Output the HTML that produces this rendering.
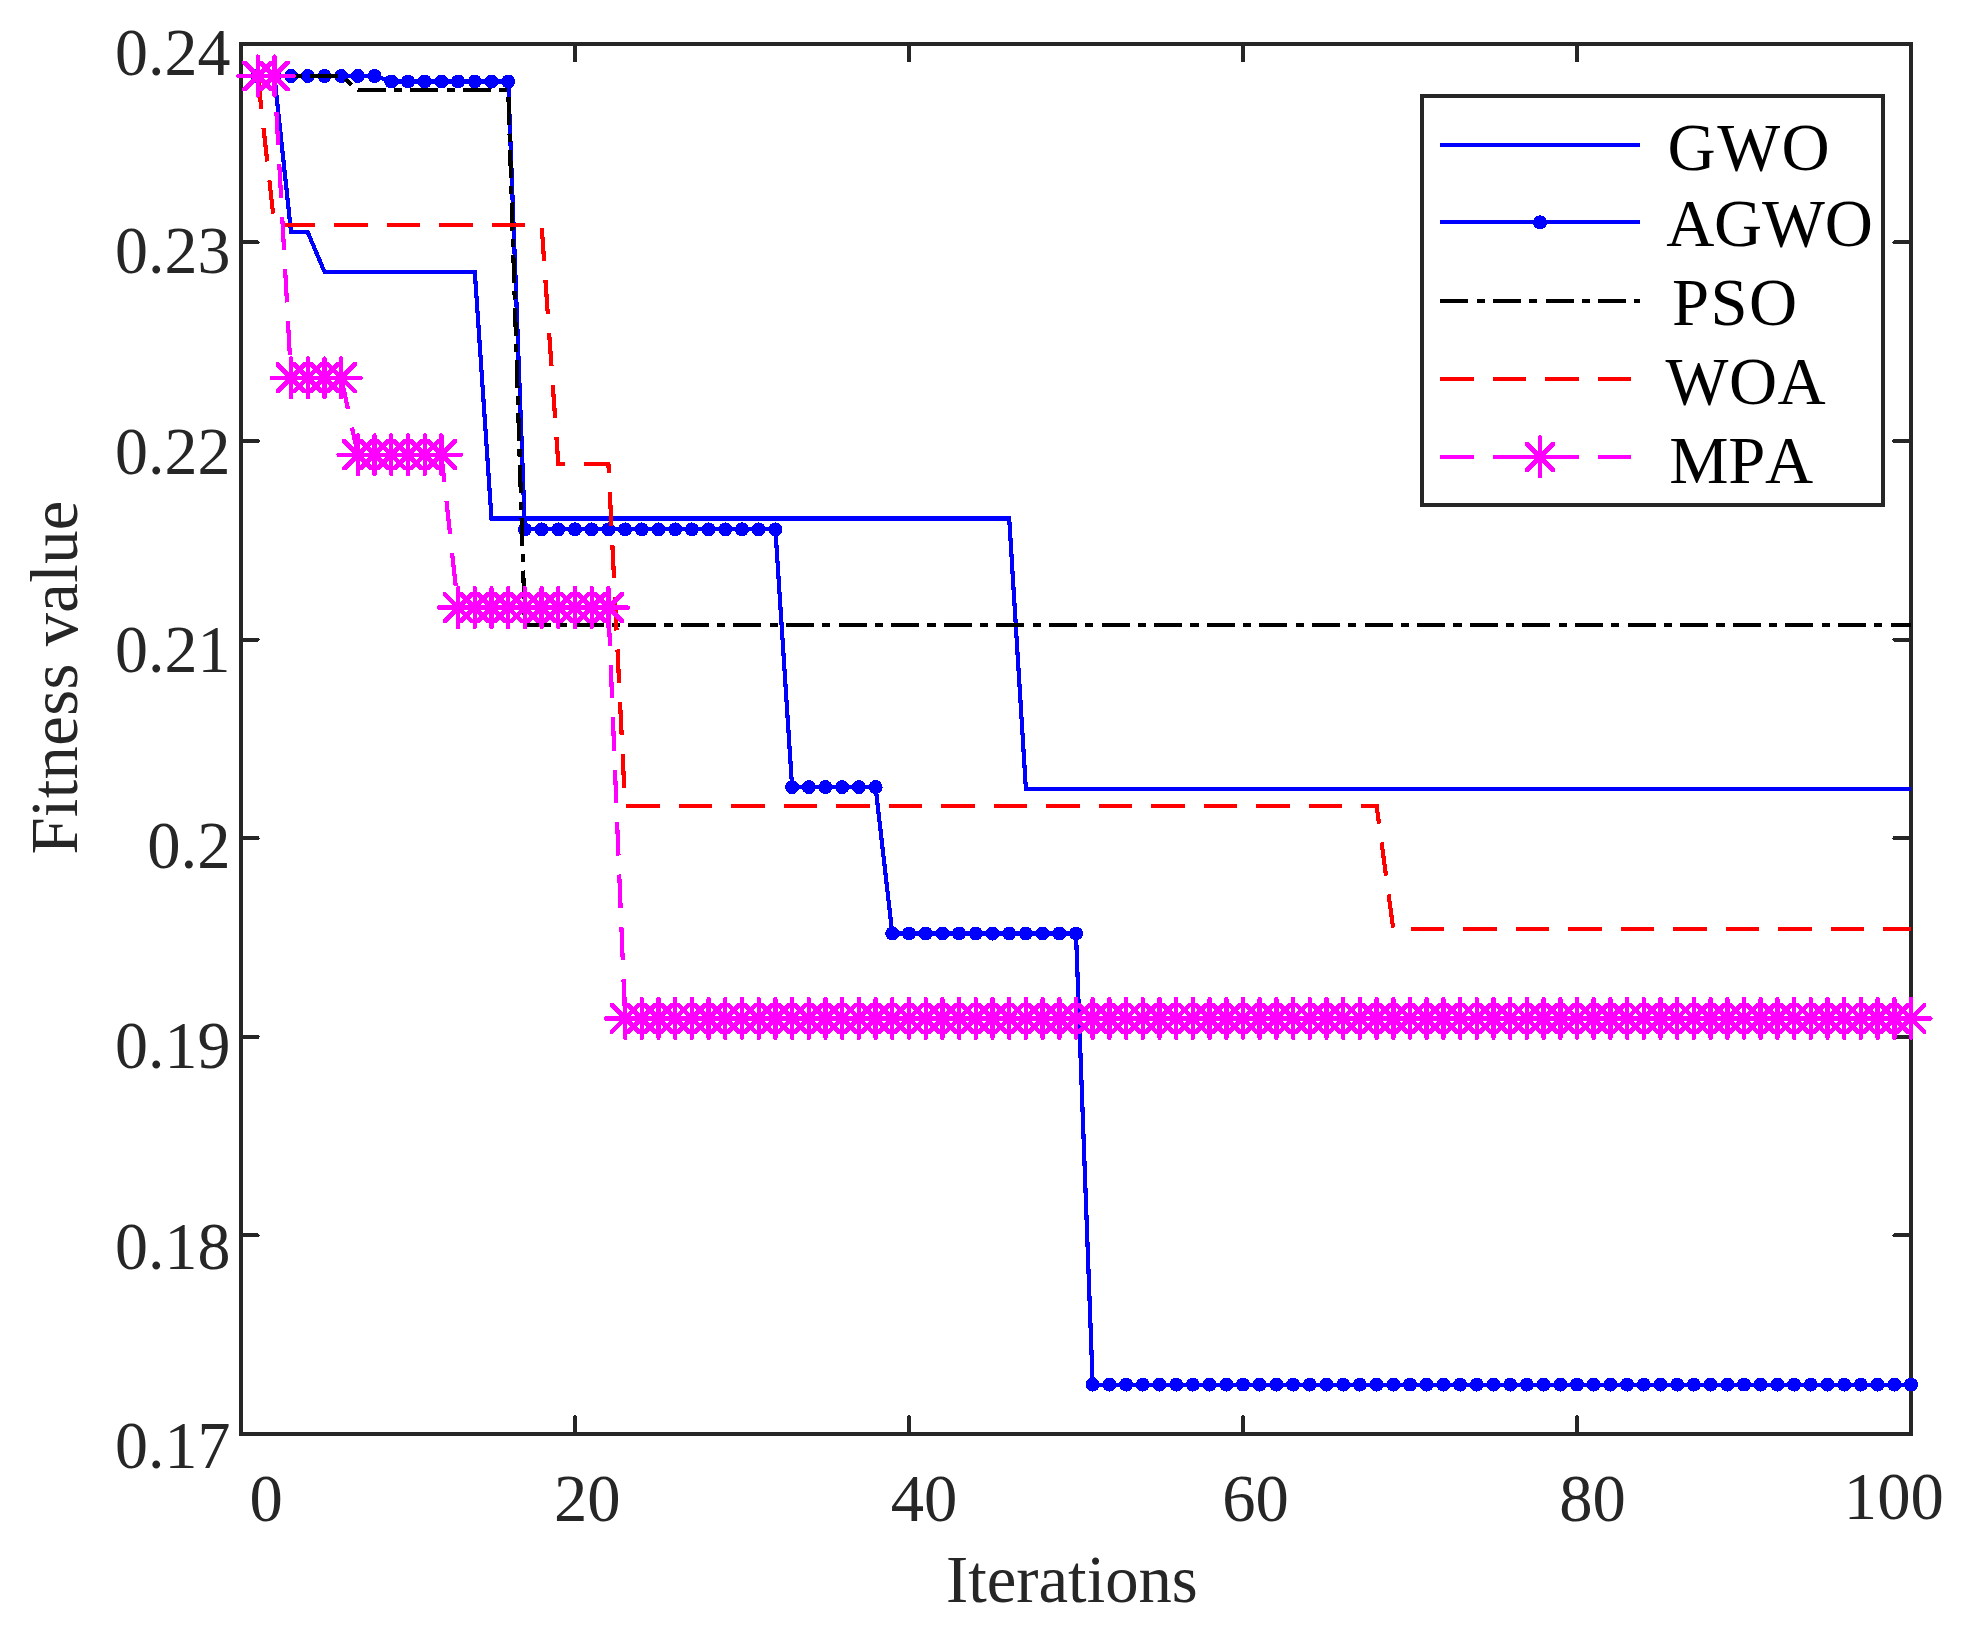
<!DOCTYPE html>
<html lang="en"><head><meta charset="utf-8"><title>Fitness value vs Iterations</title>
<style>html,body{margin:0;padding:0;background:#fff}svg{display:block}text{font-family:"Liberation Serif",serif;font-size:66.67px;font-kerning:none;font-variant-ligatures:none}</style></head><body>
<svg shape-rendering="crispEdges" width="1972" height="1635" viewBox="0 0 1972 1635">
<defs>
<g id="star"><path stroke="#ff00ff" stroke-width="4.4" stroke-linecap="round" fill="none" d="M-19.4,0H19.4 M0,-19.4 V19.4"/><path fill="#ff00ff" stroke="none" d="M15.4,15.4 V12 L-12,-15.4 H-15.4 V-12 L12,15.4 Z M-15.4,15.4 H-12 L15.4,-12 V-15.4 H12 L-15.4,12 Z"/></g>
<circle id="dot" r="7" fill="#0000ff"/>
</defs>
<rect width="1972" height="1635" fill="#ffffff"/>
<g stroke="#262626" stroke-width="4" fill="none" stroke-linecap="round" stroke-linejoin="miter">
<path d="M575.0,1433.0V1417.3M575.0,44.8V60.5M909.0,1433.0V1417.3M909.0,44.8V60.5M1243.0,1433.0V1417.3M1243.0,44.8V60.5M1577.0,1433.0V1417.3M1577.0,44.8V60.5M242.0,242.4H257.7M1910.0,242.4H1894.3M242.0,441.0H257.7M1910.0,441.0H1894.3M242.0,639.6H257.7M1910.0,639.6H1894.3M242.0,838.2H257.7M1910.0,838.2H1894.3M242.0,1036.8H257.7M1910.0,1036.8H1894.3M242.0,1235.4H257.7M1910.0,1235.4H1894.3"/>
<rect x="241.0" y="43.8" width="1670.0" height="1390.2" stroke-linecap="butt"/>
</g>
<g fill="#262626">
<text transform="translate(230.5,75.0) scale(1,1.027)" text-anchor="end" textLength="115.4" lengthAdjust="spacingAndGlyphs">0.24</text>
<text transform="translate(230.5,273.2) scale(1,1.027)" text-anchor="end" textLength="115.4" lengthAdjust="spacingAndGlyphs">0.23</text>
<text transform="translate(230.5,473.5) scale(1,1.027)" text-anchor="end" textLength="115.4" lengthAdjust="spacingAndGlyphs">0.22</text>
<text transform="translate(230.5,671.5) scale(1,1.027)" text-anchor="end" textLength="115.4" lengthAdjust="spacingAndGlyphs">0.21</text>
<text transform="translate(230.5,868.2) scale(1,1.027)" text-anchor="end">0.2</text>
<text transform="translate(230.5,1068.1) scale(1,1.027)" text-anchor="end" textLength="115.4" lengthAdjust="spacingAndGlyphs">0.19</text>
<text transform="translate(230.5,1268.7) scale(1,1.027)" text-anchor="end" textLength="115.4" lengthAdjust="spacingAndGlyphs">0.18</text>
<text transform="translate(230.5,1467.5) scale(1,1.027)" text-anchor="end" textLength="115.4" lengthAdjust="spacingAndGlyphs">0.17</text>
<text transform="translate(266.1,1520.8) scale(1,1.027)" text-anchor="middle">0</text>
<text transform="translate(587.3,1520.8) scale(1,1.027)" text-anchor="middle">20</text>
<text transform="translate(924.0,1520.8) scale(1,1.027)" text-anchor="middle">40</text>
<text transform="translate(1255.6,1520.8) scale(1,1.027)" text-anchor="middle">60</text>
<text transform="translate(1592.5,1520.8) scale(1,1.027)" text-anchor="middle">80</text>
<text transform="translate(1893.8,1518.6) scale(1,1.027)" text-anchor="middle">100</text>
<text x="1071.9" y="1601.7" text-anchor="middle">Iterations</text>
<text transform="translate(76.8,677.6) rotate(-90)" text-anchor="middle" textLength="354" lengthAdjust="spacing">Fitness value</text>
</g>
<g fill="none" stroke-width="4.17" stroke-linejoin="miter" stroke-linecap="butt">
<polyline stroke="#0000ff" points="257.7,76.0 274.4,76.0 291.1,232.4 307.8,232.4 324.5,271.8 474.8,271.8 491.5,518.5 1009.2,518.5 1025.9,789.0 1911.0,789.0"/>
<polyline stroke="#0000ff" points="257.7,76.0 374.6,76.0 391.3,81.5 508.2,81.5 524.9,529.4 775.4,529.4 792.1,787.1 875.6,787.1 892.3,933.5 1076.0,933.5 1092.7,1384.6 1911.0,1384.6"/>
<g><use href="#dot" x="257.7" y="76.0"/><use href="#dot" x="274.4" y="76.0"/><use href="#dot" x="291.1" y="76.0"/><use href="#dot" x="307.8" y="76.0"/><use href="#dot" x="324.5" y="76.0"/><use href="#dot" x="341.2" y="76.0"/><use href="#dot" x="357.9" y="76.0"/><use href="#dot" x="374.6" y="76.0"/><use href="#dot" x="391.3" y="81.5"/><use href="#dot" x="408.0" y="81.5"/><use href="#dot" x="424.7" y="81.5"/><use href="#dot" x="441.4" y="81.5"/><use href="#dot" x="458.1" y="81.5"/><use href="#dot" x="474.8" y="81.5"/><use href="#dot" x="491.5" y="81.5"/><use href="#dot" x="508.2" y="81.5"/><use href="#dot" x="524.9" y="529.4"/><use href="#dot" x="541.6" y="529.4"/><use href="#dot" x="558.3" y="529.4"/><use href="#dot" x="575.0" y="529.4"/><use href="#dot" x="591.7" y="529.4"/><use href="#dot" x="608.4" y="529.4"/><use href="#dot" x="625.1" y="529.4"/><use href="#dot" x="641.8" y="529.4"/><use href="#dot" x="658.5" y="529.4"/><use href="#dot" x="675.2" y="529.4"/><use href="#dot" x="691.9" y="529.4"/><use href="#dot" x="708.6" y="529.4"/><use href="#dot" x="725.3" y="529.4"/><use href="#dot" x="742.0" y="529.4"/><use href="#dot" x="758.7" y="529.4"/><use href="#dot" x="775.4" y="529.4"/><use href="#dot" x="792.1" y="787.1"/><use href="#dot" x="808.8" y="787.1"/><use href="#dot" x="825.5" y="787.1"/><use href="#dot" x="842.2" y="787.1"/><use href="#dot" x="858.9" y="787.1"/><use href="#dot" x="875.6" y="787.1"/><use href="#dot" x="892.3" y="933.5"/><use href="#dot" x="909.0" y="933.5"/><use href="#dot" x="925.7" y="933.5"/><use href="#dot" x="942.4" y="933.5"/><use href="#dot" x="959.1" y="933.5"/><use href="#dot" x="975.8" y="933.5"/><use href="#dot" x="992.5" y="933.5"/><use href="#dot" x="1009.2" y="933.5"/><use href="#dot" x="1025.9" y="933.5"/><use href="#dot" x="1042.6" y="933.5"/><use href="#dot" x="1059.3" y="933.5"/><use href="#dot" x="1076.0" y="933.5"/><use href="#dot" x="1092.7" y="1384.6"/><use href="#dot" x="1109.4" y="1384.6"/><use href="#dot" x="1126.1" y="1384.6"/><use href="#dot" x="1142.8" y="1384.6"/><use href="#dot" x="1159.5" y="1384.6"/><use href="#dot" x="1176.2" y="1384.6"/><use href="#dot" x="1192.9" y="1384.6"/><use href="#dot" x="1209.6" y="1384.6"/><use href="#dot" x="1226.3" y="1384.6"/><use href="#dot" x="1243.0" y="1384.6"/><use href="#dot" x="1259.7" y="1384.6"/><use href="#dot" x="1276.4" y="1384.6"/><use href="#dot" x="1293.1" y="1384.6"/><use href="#dot" x="1309.8" y="1384.6"/><use href="#dot" x="1326.5" y="1384.6"/><use href="#dot" x="1343.2" y="1384.6"/><use href="#dot" x="1359.9" y="1384.6"/><use href="#dot" x="1376.6" y="1384.6"/><use href="#dot" x="1393.3" y="1384.6"/><use href="#dot" x="1410.0" y="1384.6"/><use href="#dot" x="1426.7" y="1384.6"/><use href="#dot" x="1443.4" y="1384.6"/><use href="#dot" x="1460.1" y="1384.6"/><use href="#dot" x="1476.8" y="1384.6"/><use href="#dot" x="1493.5" y="1384.6"/><use href="#dot" x="1510.2" y="1384.6"/><use href="#dot" x="1526.9" y="1384.6"/><use href="#dot" x="1543.6" y="1384.6"/><use href="#dot" x="1560.3" y="1384.6"/><use href="#dot" x="1577.0" y="1384.6"/><use href="#dot" x="1593.7" y="1384.6"/><use href="#dot" x="1610.4" y="1384.6"/><use href="#dot" x="1627.1" y="1384.6"/><use href="#dot" x="1643.8" y="1384.6"/><use href="#dot" x="1660.5" y="1384.6"/><use href="#dot" x="1677.2" y="1384.6"/><use href="#dot" x="1693.9" y="1384.6"/><use href="#dot" x="1710.6" y="1384.6"/><use href="#dot" x="1727.3" y="1384.6"/><use href="#dot" x="1744.0" y="1384.6"/><use href="#dot" x="1760.7" y="1384.6"/><use href="#dot" x="1777.4" y="1384.6"/><use href="#dot" x="1794.1" y="1384.6"/><use href="#dot" x="1810.8" y="1384.6"/><use href="#dot" x="1827.5" y="1384.6"/><use href="#dot" x="1844.2" y="1384.6"/><use href="#dot" x="1860.9" y="1384.6"/><use href="#dot" x="1877.6" y="1384.6"/><use href="#dot" x="1894.3" y="1384.6"/><use href="#dot" x="1911.0" y="1384.6"/></g>
<polyline stroke="#000000" stroke-dasharray="28 8.2 8.2 8.2" points="257.7,76.0 341.2,76.0 357.9,89.9 508.2,89.9 524.9,625.1 1911.0,625.1"/>
<polyline stroke="#ff0000" stroke-dasharray="33.5 19" points="257.7,76.0 274.4,225.2 541.6,225.2 558.3,463.7 608.4,463.7 625.1,805.8 1376.6,805.8 1393.3,929.3 1911.0,929.3"/>
<polyline stroke="#ff00ff" stroke-dasharray="33.5 19" points="257.7,76.0 274.4,76.0 291.1,377.8 341.2,377.8 357.9,454.8 441.4,454.8 458.1,607.6 608.4,607.6 625.1,1018.4 1911.0,1018.4"/>
<g><use href="#star" x="257.7" y="76.0"/><use href="#star" x="274.4" y="76.0"/><use href="#star" x="291.1" y="377.8"/><use href="#star" x="307.8" y="377.8"/><use href="#star" x="324.5" y="377.8"/><use href="#star" x="341.2" y="377.8"/><use href="#star" x="357.9" y="454.8"/><use href="#star" x="374.6" y="454.8"/><use href="#star" x="391.3" y="454.8"/><use href="#star" x="408.0" y="454.8"/><use href="#star" x="424.7" y="454.8"/><use href="#star" x="441.4" y="454.8"/><use href="#star" x="458.1" y="607.6"/><use href="#star" x="474.8" y="607.6"/><use href="#star" x="491.5" y="607.6"/><use href="#star" x="508.2" y="607.6"/><use href="#star" x="524.9" y="607.6"/><use href="#star" x="541.6" y="607.6"/><use href="#star" x="558.3" y="607.6"/><use href="#star" x="575.0" y="607.6"/><use href="#star" x="591.7" y="607.6"/><use href="#star" x="608.4" y="607.6"/><use href="#star" x="625.1" y="1018.4"/><use href="#star" x="641.8" y="1018.4"/><use href="#star" x="658.5" y="1018.4"/><use href="#star" x="675.2" y="1018.4"/><use href="#star" x="691.9" y="1018.4"/><use href="#star" x="708.6" y="1018.4"/><use href="#star" x="725.3" y="1018.4"/><use href="#star" x="742.0" y="1018.4"/><use href="#star" x="758.7" y="1018.4"/><use href="#star" x="775.4" y="1018.4"/><use href="#star" x="792.1" y="1018.4"/><use href="#star" x="808.8" y="1018.4"/><use href="#star" x="825.5" y="1018.4"/><use href="#star" x="842.2" y="1018.4"/><use href="#star" x="858.9" y="1018.4"/><use href="#star" x="875.6" y="1018.4"/><use href="#star" x="892.3" y="1018.4"/><use href="#star" x="909.0" y="1018.4"/><use href="#star" x="925.7" y="1018.4"/><use href="#star" x="942.4" y="1018.4"/><use href="#star" x="959.1" y="1018.4"/><use href="#star" x="975.8" y="1018.4"/><use href="#star" x="992.5" y="1018.4"/><use href="#star" x="1009.2" y="1018.4"/><use href="#star" x="1025.9" y="1018.4"/><use href="#star" x="1042.6" y="1018.4"/><use href="#star" x="1059.3" y="1018.4"/><use href="#star" x="1076.0" y="1018.4"/><use href="#star" x="1092.7" y="1018.4"/><use href="#star" x="1109.4" y="1018.4"/><use href="#star" x="1126.1" y="1018.4"/><use href="#star" x="1142.8" y="1018.4"/><use href="#star" x="1159.5" y="1018.4"/><use href="#star" x="1176.2" y="1018.4"/><use href="#star" x="1192.9" y="1018.4"/><use href="#star" x="1209.6" y="1018.4"/><use href="#star" x="1226.3" y="1018.4"/><use href="#star" x="1243.0" y="1018.4"/><use href="#star" x="1259.7" y="1018.4"/><use href="#star" x="1276.4" y="1018.4"/><use href="#star" x="1293.1" y="1018.4"/><use href="#star" x="1309.8" y="1018.4"/><use href="#star" x="1326.5" y="1018.4"/><use href="#star" x="1343.2" y="1018.4"/><use href="#star" x="1359.9" y="1018.4"/><use href="#star" x="1376.6" y="1018.4"/><use href="#star" x="1393.3" y="1018.4"/><use href="#star" x="1410.0" y="1018.4"/><use href="#star" x="1426.7" y="1018.4"/><use href="#star" x="1443.4" y="1018.4"/><use href="#star" x="1460.1" y="1018.4"/><use href="#star" x="1476.8" y="1018.4"/><use href="#star" x="1493.5" y="1018.4"/><use href="#star" x="1510.2" y="1018.4"/><use href="#star" x="1526.9" y="1018.4"/><use href="#star" x="1543.6" y="1018.4"/><use href="#star" x="1560.3" y="1018.4"/><use href="#star" x="1577.0" y="1018.4"/><use href="#star" x="1593.7" y="1018.4"/><use href="#star" x="1610.4" y="1018.4"/><use href="#star" x="1627.1" y="1018.4"/><use href="#star" x="1643.8" y="1018.4"/><use href="#star" x="1660.5" y="1018.4"/><use href="#star" x="1677.2" y="1018.4"/><use href="#star" x="1693.9" y="1018.4"/><use href="#star" x="1710.6" y="1018.4"/><use href="#star" x="1727.3" y="1018.4"/><use href="#star" x="1744.0" y="1018.4"/><use href="#star" x="1760.7" y="1018.4"/><use href="#star" x="1777.4" y="1018.4"/><use href="#star" x="1794.1" y="1018.4"/><use href="#star" x="1810.8" y="1018.4"/><use href="#star" x="1827.5" y="1018.4"/><use href="#star" x="1844.2" y="1018.4"/><use href="#star" x="1860.9" y="1018.4"/><use href="#star" x="1877.6" y="1018.4"/><use href="#star" x="1894.3" y="1018.4"/><use href="#star" x="1911.0" y="1018.4"/></g>
</g>
<rect x="1422.2" y="96.2" width="461.1" height="409.0" fill="#ffffff" stroke="#262626" stroke-width="4"/>
<g fill="none" stroke-width="4.17" stroke-linecap="butt">
<path stroke="#0000ff" d="M1440.4,144.6H1639.6"/>
<path stroke="#0000ff" d="M1440.4,222.4H1639.6"/>
<use href="#dot" x="1540.0" y="222.4"/>
<path stroke="#000000" stroke-dasharray="28 8.2 8.2 8.2" d="M1440.4,301.3H1639.6"/>
<path stroke="#ff0000" stroke-dasharray="33.5 19" d="M1440.4,378.8H1639.6"/>
<path stroke="#ff00ff" stroke-dasharray="33.5 19" d="M1440.4,456.9H1639.6"/>
<use href="#star" x="1540.0" y="456.9"/>
</g>
<g fill="#000000">
<text x="1667.5" y="170.3" letter-spacing="1.5">GWO</text>
<text x="1666.2" y="245.9" letter-spacing="-0.2">AGWO</text>
<text x="1672.0" y="325.4" letter-spacing="1.4">PSO</text>
<text x="1665.6" y="404.3" letter-spacing="0.4">WOA</text>
<text x="1669.2" y="483.4" letter-spacing="-0.3">MPA</text>
</g>
</svg></body></html>
